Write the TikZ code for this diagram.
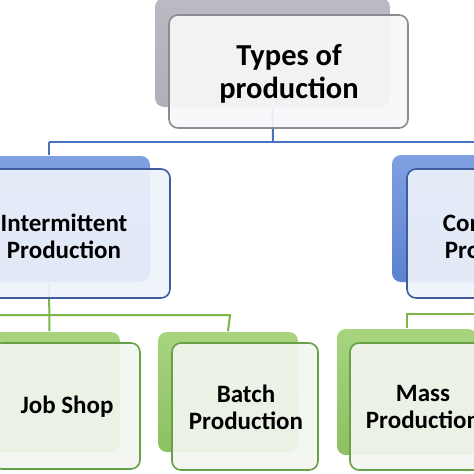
\documentclass[tikz,border=0pt]{standalone}
\usepackage{fontspec}
\setmainfont{Carlito}
\definecolor{bl}{RGB}{74,112,192}
\definecolor{gr}{RGB}{122,182,72}
\definecolor{grayT}{RGB}{186,186,194}
\definecolor{grayB}{RGB}{176,176,184}
\definecolor{grayD}{RGB}{140,140,144}
\definecolor{grayF}{RGB}{248,248,250}
\definecolor{blueT}{RGB}{128,160,226}
\definecolor{blueB}{RGB}{92,130,208}
\definecolor{blueD}{RGB}{62,92,158}
\definecolor{blueF}{RGB}{238,242,250}
\definecolor{greenT}{RGB}{168,212,128}
\definecolor{greenB}{RGB}{140,192,98}
\definecolor{greenD}{RGB}{104,160,72}
\definecolor{greenF}{RGB}{243,246,240}
\begin{document}
\begin{tikzpicture}[x=1pt,y=-1pt,
  box/.style={rectangle, rounded corners=9pt, inner sep=0pt, align=center, line width=1.6pt},
  grayback/.style={box, top color=grayT, bottom color=grayB, draw=none},
  grayfront/.style={box, fill=grayF, fill opacity=0.92, draw=grayD, draw opacity=1},
  blueback/.style={box, top color=blueT, bottom color=blueB, draw=none},
  bluefront/.style={box, fill=blueF, fill opacity=0.92, draw=blueD, draw opacity=1},
  greenback/.style={box, top color=greenT, bottom color=greenB, draw=none},
  greenfront/.style={box, fill=greenF, fill opacity=0.92, draw=greenD, draw opacity=1},
  bigtxt/.style={align=center, inner sep=0pt, font=\fontsize{30.5}{33}\selectfont\bfseries},
  midtxt/.style={align=center, inner sep=0pt, font=\fontsize{25}{27}\selectfont\bfseries},
  bline/.style={draw=bl, line width=2pt},
  gline/.style={draw=gr, line width=2pt}
]
\useasboundingbox (0,0) rectangle (474,474);
\clip (0,0) rectangle (474,474);
\fill[white] (0,0) rectangle (474,474);

% top level
\node[grayback, minimum width=235pt, minimum height=109pt] (topb) at (272.5,52.5) {};
% connectors level 1
\coordinate (hl) at (49,142);
\coordinate (hr) at (490,142);
\coordinate (tj) at (273,142);
\draw[bline] (topb.south) -- (tj);
\draw[bline] (hl) -- (hr);
\node[grayfront, minimum width=239pt, minimum height=113pt] (topf) at (288.5,71.5) {};
\node[bigtxt] (topt) at (289,74) {Types of\\production};

% level 2
\node[blueback, minimum width=202pt, minimum height=126pt] (intb) at (49,219) {};
\node[blueback, minimum width=208pt, minimum height=127pt] (conb) at (496,218.5) {};
\draw[bline] (hl) -- (intb.north);

% connectors level 2
\coordinate (gl) at (-10,315);
\coordinate (g2) at (230,315);
\coordinate (gr1) at (407,314);
\coordinate (gr2) at (490,314);
\node[greenback, minimum width=141pt, minimum height=120pt] (jobb) at (49.5,392) {};
\node[greenback, minimum width=140pt, minimum height=120pt] (batb) at (228,392) {};
\node[greenback, minimum width=140pt, minimum height=126pt] (masb) at (407,392) {};
\draw[gline] (intb.south) -- (jobb.north);
\draw[gline] (gl) -- (g2) -- (batb.north);
\draw[gline] (gr2) -- (gr1) -- (masb.north);

\node[bluefront, minimum width=212pt, minimum height=129pt] (intf) at (64,233.5) {};
\node[midtxt] (intt) at (64,236.5) {Intermittent\\Production};
\node[bluefront, minimum width=190pt, minimum height=129pt] (conf) at (502,233.5) {};
\node[midtxt] (cont) at (502,236.5) {Continuous\\Production};

% level 3
\node[greenfront, minimum width=147pt, minimum height=126pt] (jobf) at (66.5,406) {};
\node[midtxt] (jobt) at (67,407) {Job Shop};
\node[greenfront, minimum width=146pt, minimum height=127pt] (batf) at (245,406.5) {};
\node[midtxt] (batt) at (246,407) {Batch\\Production};
\node[greenfront, minimum width=146pt, minimum height=127pt] (masf) at (423,406.5) {};
\node[midtxt] (mast) at (423,407) {Mass\\Production};
\end{tikzpicture}
\end{document}
